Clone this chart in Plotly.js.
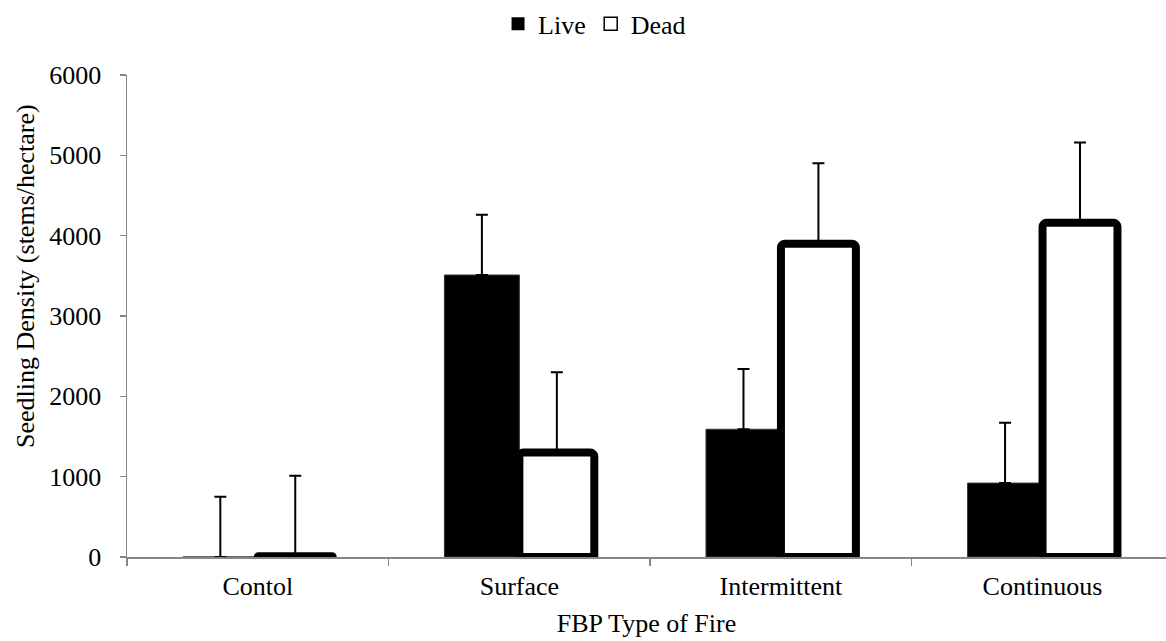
<!DOCTYPE html>
<html><head><meta charset="utf-8">
<script src="https://cdn.plot.ly/plotly-3.0.1.min.js"></script>
<style>html,body{margin:0;padding:0;background:#fff}#chart{width:1166px;height:641px}</style>
</head><body><div id="chart"></div>
<script>
const categories = ['Contol', 'Surface', 'Intermittent', 'Continuous'];
const liveValues = [0, 3510, 1590, 920];
const liveErrors = [750, 750, 750, 750];
const deadValues = [10, 1300, 3900, 4160];
const deadErrors = [1000, 1000, 1000, 1000];
const noMinus = [0, 0, 0, 0];
const yTicks = [0, 1000, 2000, 3000, 4000, 5000, 6000];
const seriesNames = ['Live', 'Dead'];
const xTitle = 'FBP Type of Fire';
const yTitle = 'Seedling Density (stems/hectare)';

const F = 'Liberation Serif, Times New Roman, serif';
const AX = '#868686';
const FS = 26;

const traces = [
  {type: 'bar', name: seriesNames[0], x: categories, y: liveValues, showlegend: false,
   marker: {color: '#000', line: {color: '#333', width: 1}},
   error_y: {type: 'data', symmetric: false, array: liveErrors, arrayminus: noMinus, color: '#000', thickness: 2, width: 6}},
  {type: 'bar', name: seriesNames[1], x: categories, y: deadValues, showlegend: false,
   marker: {color: '#fff', cornerradius: 4, line: {color: '#000', width: 8}},
   error_y: {type: 'data', symmetric: false, array: deadErrors, arrayminus: noMinus, color: '#000', thickness: 2, width: 6}},
  {type: 'scatter', mode: 'markers', name: seriesNames[0], x: [null], y: [null],
   marker: {symbol: 'square', size: 13, color: '#000'}},
  {type: 'scatter', mode: 'markers', name: seriesNames[1], x: [null], y: [null],
   marker: {symbol: 'square-open', size: 13, color: '#000', line: {width: 1.5, color: '#000'}}}
];

const layout = {
  width: 1166, height: 641,
  margin: {l: 127, r: 0, t: 75, b: 84, pad: 0},
  paper_bgcolor: '#fff', plot_bgcolor: '#fff',
  font: {family: F, size: FS, color: '#000'},
  barmode: 'group', bargap: 0.427, bargroupgap: 0,
  showlegend: true,
  legend: {orientation: 'h', x: 0.45, xanchor: 'center', y: 1.106, yanchor: 'middle',
           font: {family: F, size: FS, color: '#000'}, itemwidth: 30, traceorder: 'normal', bgcolor: 'rgba(0,0,0,0)'},
  xaxis: {type: 'category', range: [-0.5, 3.472], showline: true, linecolor: AX, linewidth: 1.5,
          ticks: 'outside', tickson: 'boundaries', ticklen: 7, tickcolor: AX, tickwidth: 1.5,
          tickfont: {family: F, size: FS, color: '#000'}, showgrid: false, zeroline: false,
          ticklabelstandoff: 5,
          title: {text: xTitle, font: {family: F, size: FS, color: '#000'}, standoff: 14}},
  yaxis: {range: [0, 6000], tickvals: yTicks, ticktext: yTicks.map(String), showline: true, linecolor: AX, linewidth: 1.5,
          ticks: 'outside', ticklen: 6, tickcolor: AX, tickwidth: 1.5, showgrid: false, zeroline: false,
          tickfont: {family: F, size: FS, color: '#000'}, ticklabelstandoff: 13},
  annotations: [{text: yTitle, textangle: -90, xref: 'paper', yref: 'paper',
                 x: (25 - 127) / 1039, y: (557 - 276) / 482, xanchor: 'center', yanchor: 'middle',
                 showarrow: false, font: {family: F, size: FS, color: '#000'}}]
};

Plotly.newPlot('chart', traces, layout, {staticPlot: true, displayModeBar: false});
</script>
</body></html>
